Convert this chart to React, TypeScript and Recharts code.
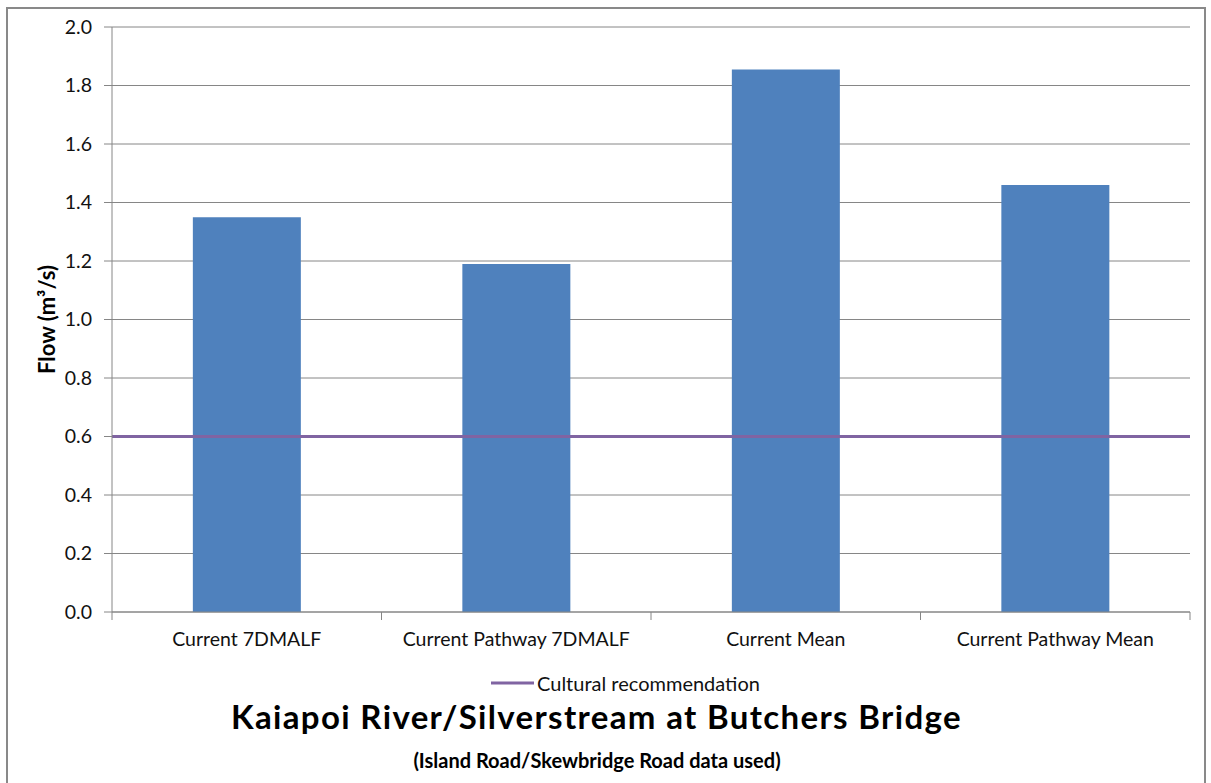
import React from 'react';
import {
  ComposedChart,
  Bar,
  Line,
  XAxis,
  YAxis,
  CartesianGrid,
  ReferenceLine,
  Legend,
  Label,
} from 'recharts';

const categories = [
  'Current 7DMALF',
  'Current Pathway 7DMALF',
  'Current Mean',
  'Current Pathway Mean',
];
const flowValues = [1.35, 1.19, 1.855, 1.46];
const culturalRecommendation = 0.6;
const yTicks = [0, 0.2, 0.4, 0.6, 0.8, 1.0, 1.2, 1.4, 1.6, 1.8, 2.0];

const data = categories.map((category, i) => ({
  category,
  flow: flowValues[i],
  cultural: culturalRecommendation,
}));

const FONT = 'Lato, "Open Sans", sans-serif';
const GRID = '#868686';
const BAR = '#4F81BD';
const PURPLE = '#8064A2';

const XTick = (props: any) => {
  const { x, y, payload, index, visibleTicksCount } = props;
  const half = payload && typeof payload.offset === 'number' ? payload.offset : 0;
  const axisY = y - 20;
  return (
    <g>
      <line x1={x - half} x2={x - half} y1={axisY} y2={axisY + 8} stroke={GRID} />
      {index === visibleTicksCount - 1 && (
        <line x1={x + half} x2={x + half} y1={axisY} y2={axisY + 8} stroke={GRID} />
      )}
      <text x={x} y={y} dy="0.71em" textAnchor="middle" fontFamily={FONT} fontSize={19.5} fill="#111">
        {payload.value}
      </text>
    </g>
  );
};

const renderYLabel = (props: any) => {
  const vb = props.viewBox || { x: 0, y: 0, width: 0, height: 0 };
  const cx = vb.x + 46;
  const cy = vb.y + vb.height / 2;
  return (
    <text
      x={cx}
      y={cy}
      transform={`rotate(-90, ${cx}, ${cy})`}
      textAnchor="middle"
      dominantBaseline="central"
      fontFamily={FONT}
      fontWeight="bold"
      fontSize={22}
      fill="#000"
    >
      Flow (m³/s)
    </text>
  );
};

const renderLegend = (props: any) => {
  const items = (props.payload || []).filter((p: any) => p.type !== 'none');
  return (
    <div style={{ display: 'flex', justifyContent: 'center', alignItems: 'center', height: 24 }}>
      {items.map((entry: any) => (
        <div key={entry.value} style={{ display: 'flex', alignItems: 'center' }}>
          <svg width={43} height={6} style={{ display: 'block' }}>
            <line x1={0} y1={3} x2={43} y2={3} stroke={entry.color} strokeWidth={3} />
          </svg>
          <span style={{ marginLeft: 3, fontFamily: FONT, fontSize: 20, lineHeight: '24px', color: '#111' }}>
            {entry.value}
          </span>
        </div>
      ))}
    </div>
  );
};

export default function App() {
  return (
    <div style={{ position: 'absolute', left: 0, top: 0, width: 1211, height: 783, background: '#fff', overflow: 'hidden' }}>
      <div
        style={{
          position: 'absolute',
          left: 6,
          top: 7,
          width: 1196,
          height: 800,
          border: '2px solid #898989',
        }}
      />
      <div style={{ position: 'absolute', left: 0, top: 0 }}>
        <ComposedChart
          width={1211}
          height={783}
          data={data}
          margin={{ top: 27, right: 21, left: 0, bottom: 141 }}
          barCategoryGap="30%"
        >
          <CartesianGrid vertical={false} stroke={GRID} />
          <XAxis
            dataKey="category"
            height={30}
            stroke={GRID}
            tickLine={false}
            tickSize={8}
            tickMargin={12}
            tick={<XTick />}
            interval={0}
          />
          <YAxis
            width={112}
            domain={[0, 2]}
            ticks={yTicks}
            interval={0}
            tickFormatter={(v: number) => v.toFixed(1)}
            stroke={GRID}
            tickSize={8}
            tickMargin={12}
            tick={{ fontFamily: FONT, fontSize: 19.5, fill: '#111' }}
          >
            <Label content={renderYLabel} />
          </YAxis>
          <Bar dataKey="flow" fill={BAR} legendType="none" isAnimationActive={false} />
          <Line
            dataKey="cultural"
            name="Cultural recommendation"
            stroke={PURPLE}
            strokeWidth={3}
            dot={false}
            activeDot={false}
            legendType="plainline"
            isAnimationActive={false}
          />
          <ReferenceLine y={culturalRecommendation} stroke={PURPLE} strokeWidth={3} />
          <Legend
            verticalAlign="middle"
            align="center"
            layout="horizontal"
            content={renderLegend}
            wrapperStyle={{ top: 671, left: 20, width: 1211 }}
          />
        </ComposedChart>
      </div>
      <div
        style={{
          position: 'absolute',
          left: 0,
          width: 1193,
          top: 698,
          textAlign: 'center',
          fontFamily: FONT,
          fontWeight: 'bold',
          fontSize: 33,
          letterSpacing: '1.35px',
          lineHeight: '36px',
          color: '#000',
        }}
      >
        Kaiapoi River/Silverstream at Butchers Bridge
      </div>
      <div
        style={{
          position: 'absolute',
          left: 0,
          width: 1194,
          top: 749,
          textAlign: 'center',
          fontFamily: FONT,
          fontWeight: 'bold',
          fontSize: 20,
          lineHeight: '22px',
          color: '#000',
        }}
      >
        (Island Road/Skewbridge Road data used)
      </div>
    </div>
  );
}
